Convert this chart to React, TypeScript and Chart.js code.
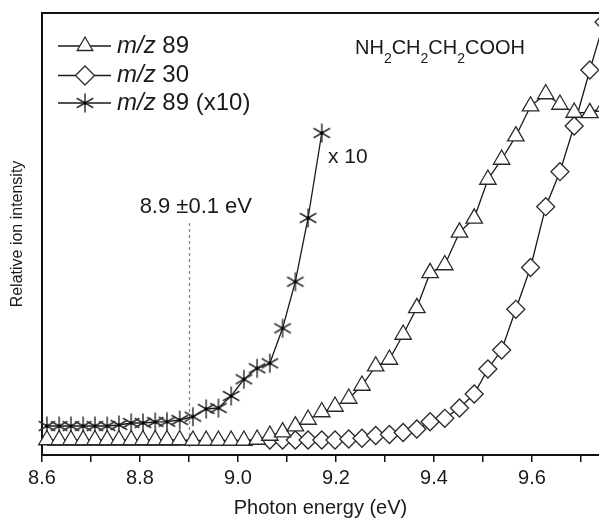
import React, { useEffect, useRef } from 'react';
import { Chart, registerables } from 'chart.js';

Chart.register(...registerables);

// Photon energy (eV) – common grid for all series
const energies = [
  8.610, 8.635, 8.659, 8.684, 8.708, 8.733, 8.757, 8.782, 8.806, 8.831,
  8.855, 8.881, 8.908, 8.935, 8.960, 8.986, 9.012, 9.039, 9.065, 9.091,
  9.117, 9.143, 9.171, 9.198, 9.226, 9.253, 9.281, 9.309, 9.337, 9.365,
  9.392, 9.422, 9.452, 9.482, 9.510, 9.538, 9.567, 9.597, 9.628, 9.657,
  9.686, 9.718, 9.747,
];

// m/z 89 (triangles), relative intensity (a.u.)
const mz89 = [
  3.39, 3.39, 3.39, 3.39, 3.39, 3.39, 3.39, 3.39, 3.39, 3.39,
  3.39, 3.39, 3.28, 3.28, 3.28, 3.28, 3.28, 3.51, 4.41, 5.16,
  6.52, 8.03, 9.73, 10.97, 12.78, 15.72, 20.09, 21.61, 27.26, 33.30,
  41.22, 42.99, 50.38, 53.55, 62.33, 66.86, 72.13, 78.91, 81.67, 79.30,
  77.49, 77.42, 78.85,
];

// m/z 30 (diamonds)
const mz30 = [
  2.26, 2.26, 2.26, 2.26, 2.26, 2.26, 2.26, 2.26, 2.26, 2.26,
  2.26, 2.26, 2.49, 2.71, 2.83, 2.94, 3.05, 3.17, 3.39, 3.39,
  3.39, 3.39, 3.39, 3.39, 3.62, 3.78, 4.41, 4.64, 5.09, 5.88,
  7.53, 8.30, 10.63, 13.80, 19.46, 23.76, 32.96, 42.42, 56.18, 64.10,
  74.43, 87.10, 97.96,
];

// m/z 89 (x10) (asterisks) – first 23 energies
const mz89x10 = [
  6.56, 6.56, 6.56, 6.56, 6.56, 6.56, 6.79, 7.24, 7.24, 7.47,
  7.53, 7.92, 8.67, 10.41, 10.63, 13.35, 17.13, 19.62, 20.75, 28.67,
  39.21, 53.62, 72.85,
];

const seriesLabels = ['m/z 89', 'm/z 30', 'm/z 89 (x10)'];
const diamondMarkerFrom = 9.05; // m/z 30 markers drawn from this energy on
const onsetEnergy = 8.9;
const onsetLabel = '8.9 \u00b10.1 eV';
const scaleLabel = 'x 10';
const formulaParts: [string, boolean][] = [
  ['NH', false], ['2', true], ['CH', false], ['2', true], ['CH', false], ['2', true], ['COOH', false],
];
const xMin = 8.6;
const xMax = 9.7367;
const yMin = 0;
const yMax = 100;

const FF = '"Liberation Sans", Arial, Helvetica, sans-serif';
const INK = '#1a1a1a';
const MARK = '#2a2a2a';

function makeStar(): HTMLCanvasElement {
  const c = document.createElement('canvas');
  c.width = 22;
  c.height = 22;
  const g = c.getContext('2d')!;
  const cx = 11, cy = 11, r = 9.5;
  g.strokeStyle = '#333';
  g.lineWidth = 1.5;
  [90, 30, 150].forEach((deg) => {
    const a = (deg * Math.PI) / 180;
    g.beginPath();
    g.moveTo(cx - r * Math.cos(a), cy - r * Math.sin(a));
    g.lineTo(cx + r * Math.cos(a), cy + r * Math.sin(a));
    g.stroke();
  });
  g.fillStyle = '#000';
  g.fillRect(cx - 1.5, cy - 1.5, 3, 3);
  return c;
}

export default function App() {
  const ref = useRef<HTMLCanvasElement | null>(null);

  useEffect(() => {
    if (!ref.current) return;
    const star = makeStar();

    const triData = energies.map((x, i) => ({ x, y: mz89[i] }));
    const diaData = energies.map((x, i) => ({ x, y: mz30[i] }));
    const starData = mz89x10.map((y, i) => ({ x: energies[i], y }));

    const drawTri = (ctx: CanvasRenderingContext2D, x: number, y: number, r: number) => {
      ctx.beginPath();
      ctx.moveTo(x, y - r);
      ctx.lineTo(x + r * Math.sin((2 * Math.PI) / 3), y + r / 2);
      ctx.lineTo(x - r * Math.sin((2 * Math.PI) / 3), y + r / 2);
      ctx.closePath();
      ctx.fillStyle = '#fff';
      ctx.fill();
      ctx.strokeStyle = MARK;
      ctx.lineWidth = 1.3;
      ctx.stroke();
    };
    const drawDia = (ctx: CanvasRenderingContext2D, x: number, y: number, r: number) => {
      ctx.beginPath();
      ctx.moveTo(x - r, y);
      ctx.lineTo(x, y - r);
      ctx.lineTo(x + r, y);
      ctx.lineTo(x, y + r);
      ctx.closePath();
      ctx.fillStyle = '#fff';
      ctx.fill();
      ctx.strokeStyle = MARK;
      ctx.lineWidth = 1.3;
      ctx.stroke();
    };

    const decor = {
      id: 'decor',
      beforeDatasetsDraw(chart: any) {
        const { ctx, scales } = chart;
        const x = Math.round(scales.x.getPixelForValue(onsetEnergy)) + 0.5;
        ctx.save();
        ctx.strokeStyle = '#8a8a8a';
        ctx.lineWidth = 1.3;
        ctx.setLineDash([3, 3]);
        ctx.beginPath();
        ctx.moveTo(x, 223);
        ctx.lineTo(x, 447);
        ctx.stroke();
        ctx.restore();
      },
      afterDraw(chart: any) {
        const { ctx, chartArea } = chart;
        ctx.save();
        // top frame line
        ctx.strokeStyle = '#111';
        ctx.lineWidth = 2;
        ctx.beginPath();
        ctx.moveTo(chartArea.left - 1, chartArea.top);
        ctx.lineTo(chartArea.right + 2, chartArea.top);
        ctx.stroke();

        // legend
        const rows = [46, 75.5, 103];
        const mx = 85;
        seriesLabels.forEach((label, i) => {
          const y = rows[i];
          ctx.strokeStyle = INK;
          ctx.lineWidth = 1.3;
          ctx.beginPath();
          ctx.moveTo(58, y);
          ctx.lineTo(111, y);
          ctx.stroke();
          if (i === 0) drawTri(ctx, mx, y, 9);
          else if (i === 1) drawDia(ctx, mx, y, 9.5);
          else ctx.drawImage(star, mx - 11, y - 11);
          const sp = label.indexOf(' ');
          const it = label.slice(0, sp);
          const rest = label.slice(sp);
          ctx.fillStyle = INK;
          ctx.textBaseline = 'middle';
          ctx.textAlign = 'left';
          ctx.font = `italic 24px ${FF}`;
          ctx.fillText(it, 117, y);
          const w = ctx.measureText(it).width;
          ctx.font = `24px ${FF}`;
          ctx.fillText(rest, 117 + w, y);
        });

        // formula
        ctx.textBaseline = 'alphabetic';
        let fx = 355;
        formulaParts.forEach(([t, sub]) => {
          ctx.font = sub ? `14px ${FF}` : `20px ${FF}`;
          ctx.fillText(t, fx, sub ? 63 : 54);
          fx += ctx.measureText(t).width;
        });

        // x 10 label
        ctx.font = `21px ${FF}`;
        ctx.fillText(scaleLabel, 328, 163);

        // onset label
        ctx.font = `22px ${FF}`;
        ctx.textAlign = 'right';
        ctx.fillText(onsetLabel, 252, 213);
        ctx.restore();
      },
    };

    const chart = new Chart(ref.current, {
      type: 'line',
      data: {
        datasets: [
          {
            label: seriesLabels[0],
            data: triData,
            borderColor: INK,
            borderWidth: 1.3,
            pointStyle: 'triangle',
            pointRadius: 9.5,
            pointBorderWidth: 1.3,
            pointBorderColor: MARK,
            pointBackgroundColor: '#fff',
            tension: 0,
            clip: false as any,
          },
          {
            label: seriesLabels[1],
            data: diaData,
            borderColor: INK,
            borderWidth: 1.3,
            pointStyle: 'rectRot',
            pointRadius: (c: any) => (c.raw && c.raw.x >= diamondMarkerFrom ? 9 : 0),
            pointBorderWidth: 1.3,
            pointBorderColor: MARK,
            pointBackgroundColor: '#fff',
            tension: 0,
            clip: false as any,
          },
          {
            label: seriesLabels[2],
            data: starData,
            borderColor: INK,
            borderWidth: 1.3,
            pointStyle: star as any,
            pointRadius: 10,
            tension: 0,
            clip: false as any,
          },
        ],
      },
      options: {
        responsive: false,
        animation: false,
        events: [],
        layout: { autoPadding: false, padding: { top: 13, right: 0, left: 0, bottom: 0 } },
        plugins: { legend: { display: false }, tooltip: { enabled: false } },
        scales: {
          x: {
            type: 'linear',
            min: xMin,
            max: xMax,
            bounds: 'data',
            afterFit: (s: any) => { s.height = 64; s.paddingRight = 0; s.paddingLeft = 0; },
            border: { display: true, color: '#111', width: 2 },
            grid: { display: true, drawOnChartArea: false, drawTicks: true, tickLength: 7, color: '#111', lineWidth: 1.5 },
            ticks: {
              stepSize: 0.1,
              includeBounds: false,
              autoSkip: false,
              maxRotation: 0,
              padding: 4,
              color: INK,
              font: { family: FF, size: 20 },
              callback: (v: any) => (Math.round(Number(v) * 10) % 2 === 0 ? Number(v).toFixed(1) : ''),
            },
            title: {
              display: true,
              text: 'Photon energy (eV)',
              color: INK,
              font: { family: FF, size: 20, lineHeight: 1 },
              padding: { top: 0, bottom: 1 },
            },
          },
          y: {
            type: 'linear',
            min: yMin,
            max: yMax,
            afterFit: (s: any) => { s.width = 42; },
            border: { display: true, color: '#111', width: 2 },
            grid: { display: false },
            ticks: { display: false },
            title: {
              display: true,
              text: 'Relative ion intensity',
              color: INK,
              font: { family: FF, size: 16, lineHeight: 1.2 },
              padding: { top: 8, bottom: 0 },
            },
          },
        },
      },
      plugins: [decor],
    });
    return () => chart.destroy();
  }, []);

  return (
    <div style={{ position: 'absolute', left: 0, top: 0, width: 599, height: 519, background: '#fff', overflow: 'hidden' }}>
      <canvas ref={ref} width={599} height={519} style={{ width: 599, height: 519, display: 'block' }} />
    </div>
  );
}
